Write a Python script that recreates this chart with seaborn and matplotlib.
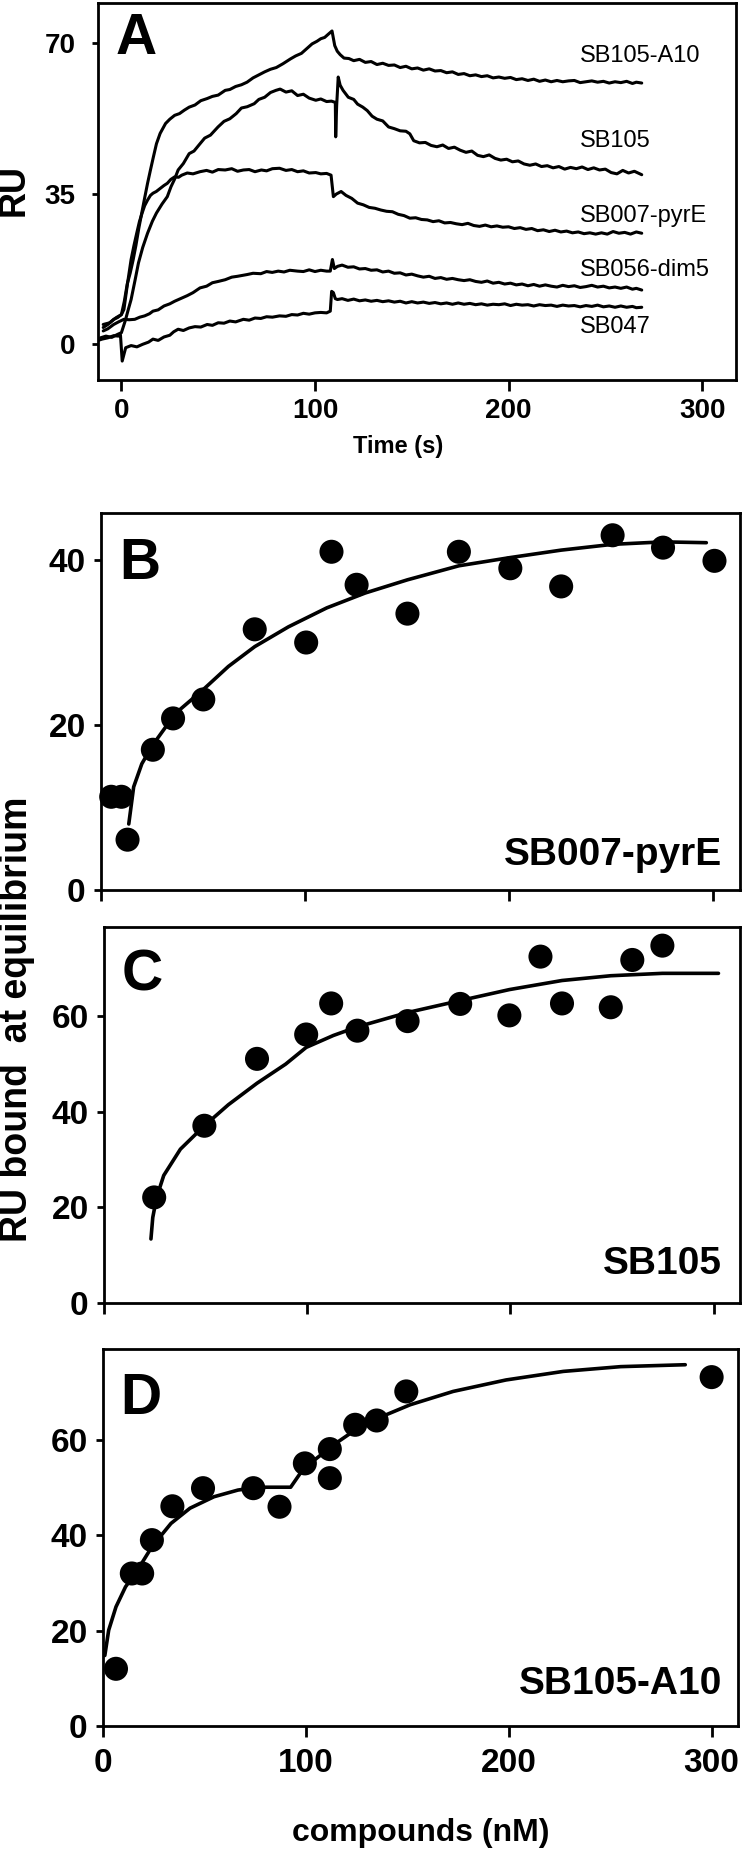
import matplotlib
matplotlib.use("Agg")
import matplotlib.pyplot as plt
import seaborn as sns
import pandas as pd

sns.set_theme(style="ticks")
plt.rcParams["font.family"] = ["Liberation Sans", "DejaVu Sans"]
for k in ["text.color", "axes.labelcolor", "xtick.color", "ytick.color", "axes.edgecolor"]:
    plt.rcParams[k] = "black"

# ---------------- Panel A: sensorgrams, (time s, RU) pairs ----------------
a10 = [(-9.4, 3.9), (-7, 4.6), (-4, 5.8), (-2, 6.2), (0, 6.9), (1.5, 10), (3, 14), (4.5, 16.5),
       (6, 19.5), (7.5, 23), (9, 27), (10.5, 30.5), (12, 34), (13.5, 37.4), (15, 40.5), (16.5, 43.5),
       (18.1, 46.6), (20, 49), (22.8, 51.3), (25, 52.3), (27.5, 53.2), (30, 53.6), (32.5, 54.4),
       (35, 55.1), (38, 55.6), (41, 56.6), (44.3, 57.1), (47, 57.6), (50, 57.9), (53.6, 59.0),
       (56, 59.2), (59, 59.9), (62, 60.3), (64.9, 60.9), (68, 61.9), (71, 62.6), (74, 63.3),
       (77, 63.9), (80, 64.3), (83.5, 65.2), (87.3, 66.3), (90, 67.0), (93, 67.6), (95.5, 68.6),
       (98.5, 69.8), (101, 70.4), (103, 71.0), (105, 71.3), (107, 72.1), (108.8, 72.8),
       (110.2, 69.4), (111.5, 68.1), (113, 67.3), (115, 66.5), (117.5, 66.4), (120, 65.9),
       (123, 66.2), (126, 65.5), (129, 65.7), (132, 65.0), (135, 65.3), (138, 64.8), (141, 64.9),
       (144, 64.3), (147, 64.6), (150, 64.0), (153, 64.2), (156, 63.7), (159, 64.0), (162, 63.5),
       (165, 63.6), (168, 63.1), (171, 63.3), (174, 62.7), (177, 62.9), (180, 62.4), (183, 62.6),
       (186, 62.2), (189, 62.4), (192, 61.9), (195, 62.1), (198, 61.8), (201, 62.0), (204, 61.5),
       (207, 61.7), (210, 61.3), (213, 61.6), (216, 61.1), (219, 61.4), (222, 61.0), (225, 61.3),
       (228, 61.0), (231, 61.2), (234, 61.3), (237, 60.8), (240, 61.0), (243, 61.2), (246, 60.9),
       (249, 61.1), (252, 60.7), (255, 61.0), (258, 60.8), (261, 61.1), (264, 60.6), (266, 60.9),
       (268.8, 60.7)]

sb105 = [(-10.8, 1.5), (-8, 1.9), (-5, 1.6), (-2, 2.3), (0, 2.7), (2, 5.5), (3.5, 8), (5, 10.4),
         (7, 14.8), (8.8, 18.9), (11, 22.5), (13.5, 25.8), (16, 28.6), (18.1, 30.5), (21, 32.6),
         (23.7, 34.3), (25.6, 36.6), (27.5, 38.4), (29.3, 40.5), (32, 42.0), (35, 44.3), (37.5, 44.9),
         (40.6, 46.6), (43, 47.9), (46, 48.6), (49.9, 50.5), (53, 51.8), (56, 52.4), (59.3, 53.6),
         (62, 54.9), (65, 55.2), (68.6, 55.9), (71, 56.9), (74, 57.4), (77, 58.5), (79.8, 59.0),
         (82, 59.3), (85, 58.6), (88, 58.9), (91, 57.8), (94, 58.1), (97, 57.2), (100.4, 56.7),
         (103, 57.0), (106, 56.4), (108.5, 56.5), (110.5, 56.2), (110.7, 48.2), (111.2, 55.5),
         (112, 62.1), (113, 60.2), (114.5, 59.0), (117.2, 57.4), (120, 56.9), (122, 55.8),
         (124.7, 55.1), (127, 54.3), (129.5, 53.0), (132, 52.3), (135, 51.9), (138, 50.5),
         (141, 50.1), (144, 49.6), (147, 49.5), (149, 48.9), (151, 47.3), (154, 46.8), (157, 46.9),
         (160, 46.2), (163, 45.9), (166, 46.3), (169, 45.5), (172, 45.8), (175, 45.1), (178, 44.6),
         (181, 44.9), (184, 43.9), (187, 43.6), (190, 44.0), (193, 43.2), (196, 42.8), (199, 43.0),
         (202, 42.4), (205, 42.6), (208, 41.9), (211, 41.6), (214, 41.9), (217, 41.3), (220, 41.5),
         (223, 41.0), (226, 41.3), (229, 40.7), (232, 41.1), (235, 40.8), (238, 41.2), (241, 40.6),
         (244, 41.0), (247, 40.5), (250, 40.7), (253, 39.9), (256, 39.6), (259, 40.4), (262, 39.8),
         (265, 40.2), (268.8, 39.4)]

pyre = [(-9.4, 4.6), (-6, 5.0), (-2.7, 6.2), (0, 6.9), (1.3, 8.1), (3.2, 14.3), (5, 19.7),
        (6.5, 23), (7.9, 25.8), (9.3, 28.5), (10.7, 30.5), (12, 32.2), (13.5, 33.5), (15, 34.6),
        (16.3, 35.1), (18, 35.5), (20, 36.2), (22, 36.9), (23.7, 37.4), (25.5, 38.3), (27.5, 38.9),
        (29.5, 38.8), (31.2, 39.3), (34, 39.8), (37, 39.6), (40.6, 40.1), (44, 40.4), (47, 40.0),
        (50, 40.6), (53.6, 40.5), (57, 40.8), (60, 40.2), (63, 40.5), (66, 40.6), (69, 40.1),
        (72.3, 40.5), (75, 40.3), (78, 40.8), (81.7, 40.9), (85, 40.4), (88, 40.6), (91, 40.1),
        (94, 40.3), (97, 39.8), (100.4, 39.9), (103, 39.6), (106, 39.7), (108.3, 39.3),
        (109.5, 34.3), (111, 34.9), (113.5, 35.5), (116, 34.6), (119, 33.9), (122, 32.8),
        (125, 32.4), (128, 31.8), (131, 31.6), (134, 31.2), (137, 30.9), (140, 30.8), (143, 30.2),
        (146, 29.9), (149, 29.3), (152, 29.4), (155, 29.0), (158, 28.9), (161, 28.5), (164, 28.7),
        (167, 28.2), (170, 28.3), (173, 28.0), (176, 27.8), (179, 28.1), (182, 27.6), (185, 27.4),
        (188, 27.7), (191, 27.3), (194, 27.5), (197, 27.2), (200, 27.3), (203, 26.9), (206, 27.1),
        (209, 26.7), (212, 26.9), (215, 26.4), (218, 26.6), (221, 26.2), (224, 26.5), (227, 26.1),
        (230, 26.3), (233, 25.9), (236, 26.1), (239, 25.7), (242, 25.9), (245, 25.6), (248, 25.9),
        (251, 25.6), (254, 26.2), (257, 25.8), (260, 26.0), (263, 25.6), (266, 26.1), (268.8, 25.8)]

dim5 = [(-9.4, 3.1), (-7, 3.6), (-4, 4.6), (-1.5, 5.2), (1.3, 5.8), (4, 5.7), (6.9, 5.8),
        (9.5, 6.3), (12, 6.6), (14.5, 7.1), (16.3, 7.7), (19, 8.0), (22, 8.9), (25, 9.4),
        (27.5, 10.0), (30.5, 10.6), (34, 11.3), (37, 12.0), (40.6, 13.1), (44, 13.5), (47, 14.3),
        (50, 14.6), (53.6, 15.0), (57, 15.6), (60, 15.8), (64.9, 16.2), (68, 16.5), (72, 16.4),
        (75, 16.9), (77.9, 16.7), (81, 17.0), (84, 16.8), (87, 17.2), (91, 17.0), (94, 16.9),
        (97, 17.3), (100, 16.9), (103, 17.2), (106, 17.0), (107.9, 17.0), (109, 19.7), (110, 17.6),
        (111.6, 18.1), (114, 18.4), (117, 17.9), (120, 18.0), (123, 17.5), (126, 17.6), (129, 17.2),
        (132, 17.3), (135, 16.8), (138, 17.0), (141, 16.5), (144, 16.6), (147, 16.1), (150, 16.3),
        (153, 15.9), (156, 15.6), (159, 15.8), (162, 15.3), (165, 15.5), (168, 15.1), (171, 15.3),
        (174, 15.0), (177, 14.8), (180, 15.0), (183, 14.6), (186, 14.4), (189, 14.7), (192, 14.2),
        (195, 14.4), (198, 14.0), (201, 14.2), (204, 13.8), (207, 14.0), (210, 13.6), (213, 13.9),
        (216, 13.5), (219, 13.8), (222, 13.5), (225, 13.3), (228, 13.7), (231, 13.4), (234, 13.6),
        (237, 13.2), (240, 13.4), (243, 13.7), (246, 13.3), (249, 13.5), (252, 13.1), (255, 13.3),
        (258, 13.0), (261, 13.3), (264, 12.8), (266, 13.0), (268.8, 12.6)]

sb047 = [(-12.7, 0.8), (-10, 1.2), (-7, 1.5), (-4, 2.0), (-1.5, 1.9), (-0.5, 2.2), (0.4, -3.9),
         (2.2, -0.8), (5, -0.3), (8, -0.6), (11, 0.0), (14, 0.5), (16.3, 1.2), (19, 0.9), (22, 1.7),
         (25, 2.1), (27, 2.9), (29.3, 3.5), (32, 3.2), (35, 3.8), (38, 4.1), (41, 4.0), (44.3, 4.6),
         (47, 4.4), (50, 5.0), (53, 4.9), (56, 5.4), (59, 5.2), (63, 5.8), (66, 5.6), (69, 6.1),
         (72, 6.0), (75, 6.4), (78, 6.3), (81.7, 6.6), (85, 6.5), (88, 6.9), (91, 6.8), (94, 7.2),
         (97, 7.0), (100, 7.3), (103, 7.4), (106, 7.3), (107.9, 7.7), (108.6, 12.3), (109.5, 12.0),
         (110.5, 10.6), (111.6, 10.4), (114, 10.6), (117, 10.2), (120, 10.5), (123, 10.1),
         (126, 10.3), (129, 10.0), (132, 10.2), (135, 9.9), (138, 10.1), (141, 9.8), (144, 10.0),
         (147, 9.6), (150, 9.9), (153, 9.6), (156, 9.8), (159, 9.5), (162, 9.7), (165, 9.4),
         (168, 9.6), (171, 9.3), (174, 9.6), (177, 9.3), (180, 9.5), (183, 9.2), (186, 9.4),
         (189, 9.1), (192, 9.3), (195, 9.2), (198, 9.4), (201, 9.0), (204, 9.3), (207, 9.1),
         (210, 9.2), (213, 8.9), (216, 9.2), (219, 9.0), (222, 9.1), (225, 8.8), (228, 9.1),
         (231, 8.9), (234, 9.0), (237, 8.7), (240, 9.0), (243, 8.8), (246, 9.1), (249, 8.7),
         (252, 8.9), (255, 8.6), (258, 8.9), (261, 8.6), (264, 8.8), (266, 8.5), (268.8, 8.6)]

trace_names = ["SB105-A10", "SB105", "SB007-pyrE", "SB056-dim5", "SB047"]
trace_label_y = [67.0, 47.3, 29.9, 17.2, 3.9]
a_xticks = [0, 100, 200, 300]
a_yticks = [0, 35, 70]

# ---------------- Panels B-D: equilibrium binding ----------------
b_x = [5, 10, 13.0, 25.4, 35.3, 50.1, 75.3, 100.5, 112.9, 125.2, 150.1, 175.3, 200.5, 225.4, 250.6, 275.3, 300.5]
b_y = [11.3, 11.3, 6.1, 17.0, 20.8, 23.1, 31.6, 30.0, 41.0, 37.0, 33.5, 41.0, 39.0, 36.8, 43.0, 41.5, 39.9]
b_fit_x = [13.6, 16.0, 20.0, 25.4, 31.8, 38.8, 50.1, 62.4, 75.3, 91.8, 110.6, 129.4, 150.1, 175.3, 200.5, 225.4, 250.6, 275.3, 296.5]
b_fit_y = [8.0, 12.5, 15.3, 17.6, 19.8, 21.9, 24.3, 27.1, 29.5, 31.9, 34.2, 36.0, 37.6, 39.3, 40.3, 41.2, 41.9, 42.2, 42.1]

c_x = [24.7, 49.4, 75.3, 99.5, 111.8, 124.7, 149.4, 175.3, 199.5, 214.8, 225.4, 249.4, 260.0, 274.8]
c_y = [22.1, 37.1, 51.1, 56.2, 62.7, 57.0, 59.0, 62.6, 60.2, 72.5, 62.7, 61.9, 71.8, 74.8]
c_fit_x = [23.1, 24.0, 25.9, 29.4, 37.6, 49.4, 61.2, 75.3, 89.4, 99.5, 112.9, 124.7, 149.4, 175.3, 199.5, 225.4, 249.4, 274.8, 302.4]
c_fit_y = [13.4, 17.9, 22.1, 26.7, 32.2, 37.1, 41.5, 46.0, 50.0, 53.5, 56.0, 57.8, 60.8, 63.3, 65.6, 67.5, 68.5, 69.0, 69.0]

d_x = [6.4, 14.2, 19.3, 24.1, 34.2, 49.3, 74.1, 87.0, 99.5, 111.8, 111.8, 124.3, 134.9, 149.5, 300.0]
d_y = [12.0, 32.0, 32.0, 39.0, 46.1, 49.9, 49.9, 46.0, 55.1, 58.1, 52.0, 63.2, 64.1, 70.2, 73.2]
d_fit_x = [0.9, 2.8, 6.4, 11.1, 17.0, 24.1, 33.5, 42.9, 54.7, 66.5, 75.9, 92.5, 97.2, 104.2, 113.7, 124.3, 137.3, 151.4, 172.6, 198.6, 226.9, 255.2, 287.0]
d_fit_y = [14.8, 20.1, 25.0, 29.2, 32.7, 37.6, 42.5, 45.7, 48.1, 49.5, 50.1, 50.1, 53.0, 55.8, 59.0, 62.1, 64.9, 67.4, 70.2, 72.6, 74.4, 75.4, 75.8]

bind_xticks = [0, 100, 200, 300]
panel_names = ["SB007-pyrE", "SB105", "SB105-A10"]

# ---------------- figure ----------------
W, H = 750, 1853
fig = plt.figure(figsize=(W / 100, H / 100), dpi=100)
fig.patch.set_facecolor("white")


def rect(l, t, r, b):
    return [l / W, 1 - b / H, (r - l) / W, (b - t) / H]


def style_axes(ax):
    ax.set_facecolor("white")
    for s in ax.spines.values():
        s.set_visible(True)
        s.set_color("black")
        s.set_linewidth(2.0)
    ax.grid(False)
    ax.set_xlabel("")
    ax.set_ylabel("")


# Panel A
axA = fig.add_axes(rect(98, 3, 736, 380))
for tr in [a10, sb105, pyre, dim5, sb047]:
    df = pd.DataFrame(tr, columns=["t", "v"])
    sns.lineplot(data=df, x="t", y="v", color="black", lw=2.2, estimator=None, sort=False, ax=axA)
axA.set_xlim(-12.1, 317.5)
axA.set_ylim(-8.3, 79.3)
axA.set_xticks(a_xticks)
axA.set_yticks(a_yticks)
style_axes(axA)
axA.tick_params(axis="x", direction="out", length=8, width=2, labelsize=20, pad=5)
axA.tick_params(axis="y", direction="out", length=4, width=2, labelsize=20, pad=12)
for lab in axA.get_xticklabels() + axA.get_yticklabels():
    lab.set_fontweight("bold")
for name, yy in zip(trace_names, trace_label_y):
    axA.text(237, yy, name, fontsize=17, ha="left", va="center", color="black")

# Panels B-D
rects = [rect(101, 513, 740, 890), rect(104, 927, 740, 1303), rect(103, 1349, 738, 1726)]
ylims = [(0, 45.7), (0, 78.7), (0, 79.1)]
yticks = [[0, 20, 40], [0, 20, 40, 60], [0, 20, 40, 60]]
pts = [(b_x, b_y), (c_x, c_y), (d_x, d_y)]
fits = [(b_fit_x, b_fit_y), (c_fit_x, c_fit_y), (d_fit_x, d_fit_y)]
for i in range(3):
    ax = fig.add_axes(rects[i])
    fdf = pd.DataFrame({"x": fits[i][0], "y": fits[i][1]})
    sns.lineplot(data=fdf, x="x", y="y", color="black", lw=2.6, estimator=None, sort=False, ax=ax)
    pdf = pd.DataFrame({"x": pts[i][0], "y": pts[i][1]})
    sns.scatterplot(data=pdf, x="x", y="y", color="black", s=300, edgecolor="none", ax=ax,
                    clip_on=False, zorder=5)
    ax.set_xlim(0, 313)
    ax.set_ylim(*ylims[i])
    ax.set_xticks(bind_xticks)
    ax.set_yticks(yticks[i])
    style_axes(ax)
    ax.tick_params(axis="x", direction="out", length=8, width=2, labelsize=24, pad=8)
    ax.tick_params(axis="y", direction="out", length=5, width=2, labelsize=24, pad=6)
    if i < 2:
        ax.set_xticklabels([])
    for lab in ax.get_xticklabels() + ax.get_yticklabels():
        lab.set_fontweight("bold")


def ftext(x, y, s, **kw):
    fig.text(x / W, 1 - y / H, s, **kw)


# panel letters
ftext(116, 39, "A", fontsize=41, fontweight="bold", ha="left", va="center")
ftext(119, 564, "B", fontsize=41, fontweight="bold", ha="left", va="center")
ftext(122, 975, "C", fontsize=41, fontweight="bold", ha="left", va="center")
ftext(120, 1399, "D", fontsize=41, fontweight="bold", ha="left", va="center")

# inside labels
for name, yy in zip(panel_names, [855, 1264, 1684]):
    ftext(722, yy, name, fontsize=28, fontweight="bold", ha="right", va="center")

# axis labels
ftext(398, 447, "Time (s)", fontsize=17, fontweight="bold", ha="center", va="center")
ftext(14, 190, "RU", fontsize=26, fontweight="bold", ha="center", va="center", rotation=90)
ftext(17, 1019, "RU bound  at equilibrium", fontsize=27, fontweight="bold", ha="center",
      va="center", rotation=90)
ftext(421, 1833, "compounds (nM)", fontsize=23, fontweight="bold", ha="center", va="center")

fig.savefig("out.png", dpi=100, facecolor="white")
